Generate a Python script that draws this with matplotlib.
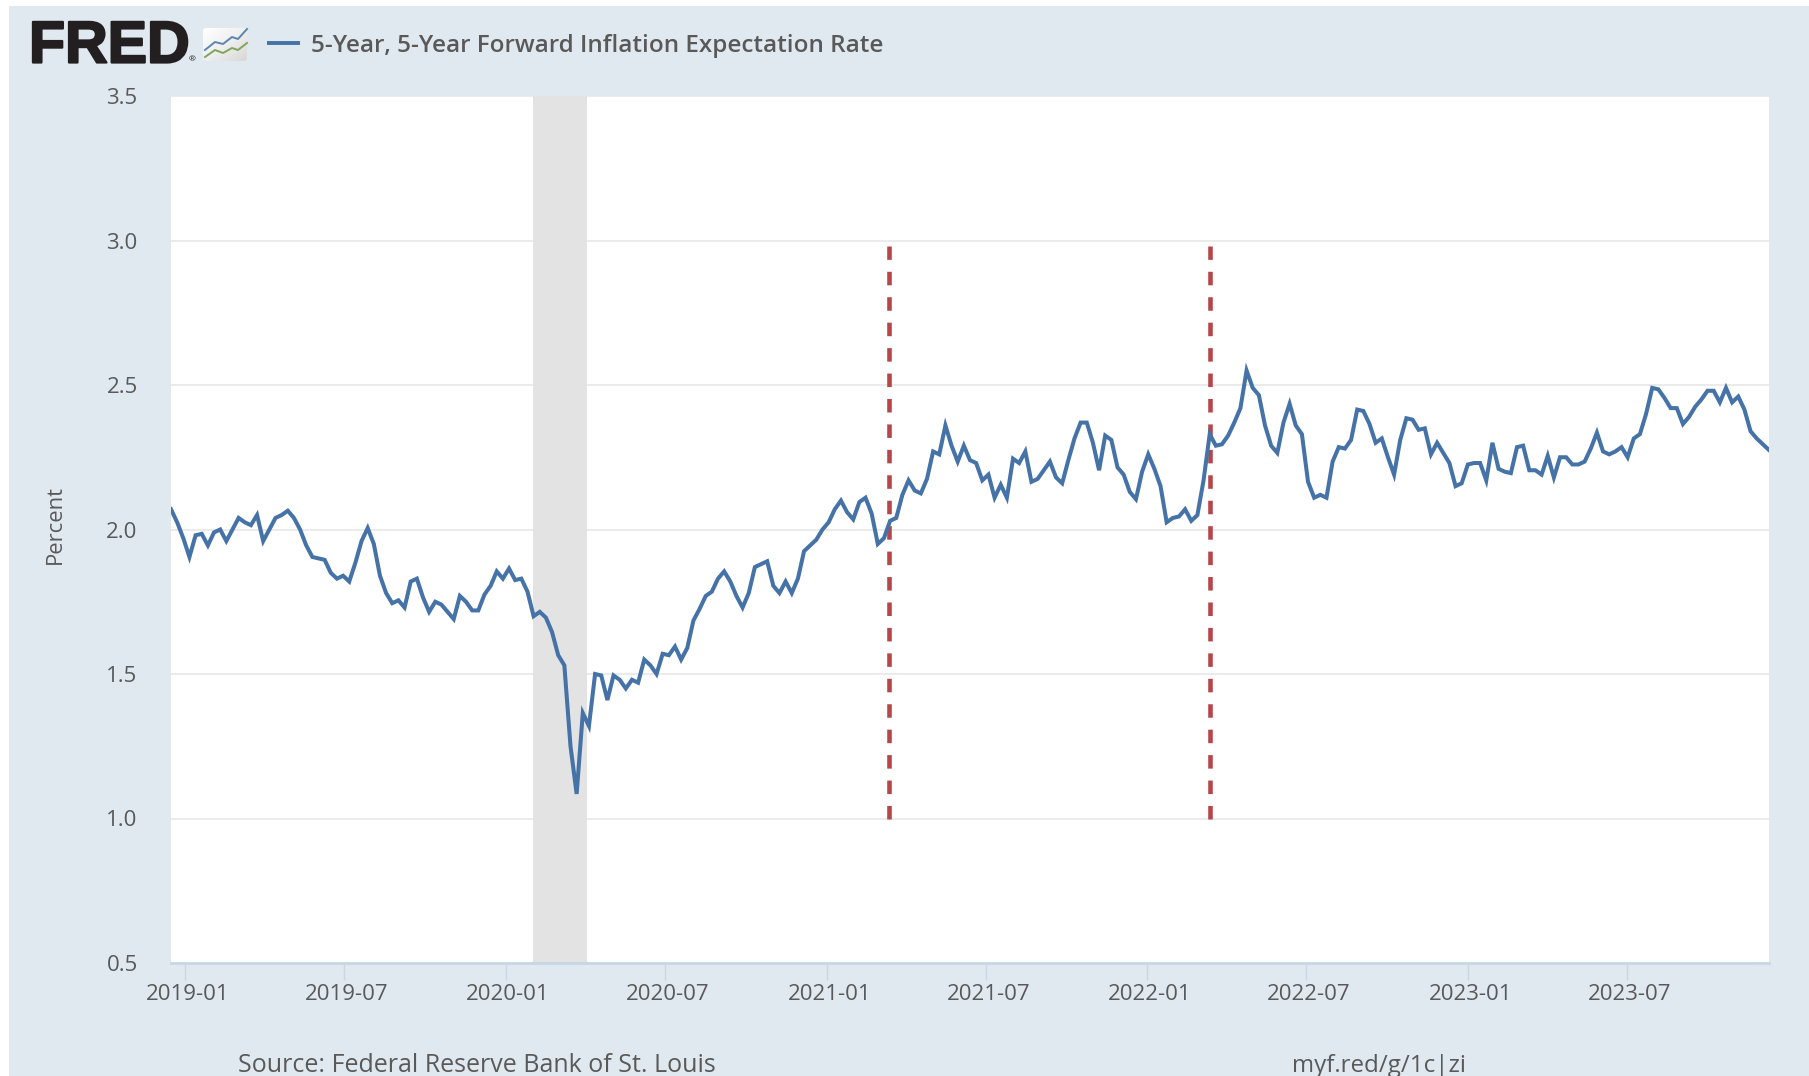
import numpy as np
import pandas as pd
import matplotlib
matplotlib.use('Agg')
import matplotlib.pyplot as plt
import matplotlib.patheffects as pe
from matplotlib.patches import FancyBboxPatch, Rectangle
from matplotlib.transforms import ScaledTranslation

W, H = 1809, 1076

series_name = '5-Year, 5-Year Forward Inflation Expectation Rate'
start_date = '2018-12-16'

rate = [
    2.07, 2.025, 1.97, 1.905, 1.98, 1.985, 1.945, 1.99, 2.00, 1.96,
    2.00, 2.04, 2.025, 2.015, 2.05, 1.96, 2.00, 2.04, 2.05, 2.065,
    2.04, 2.00, 1.945, 1.905, 1.90, 1.895, 1.85, 1.83, 1.84, 1.82,
    1.885, 1.96, 2.005, 1.95, 1.84, 1.78, 1.745, 1.755, 1.73, 1.82,
    1.83, 1.765, 1.715, 1.75, 1.74, 1.715, 1.69, 1.77, 1.75, 1.72,
    1.72, 1.775, 1.805, 1.855, 1.83, 1.865, 1.825, 1.83, 1.785, 1.70,
    1.715, 1.695, 1.645, 1.565, 1.53, 1.25, 1.085, 1.365, 1.32, 1.50,
    1.495, 1.41, 1.495, 1.48, 1.45, 1.48, 1.47, 1.55, 1.53, 1.50,
    1.57, 1.565, 1.595, 1.55, 1.59, 1.685, 1.725, 1.77, 1.785, 1.83,
    1.855, 1.82, 1.77, 1.73, 1.78, 1.87, 1.88, 1.89, 1.805, 1.78,
    1.82, 1.78, 1.83, 1.925, 1.945, 1.965, 2.00, 2.025, 2.07, 2.10,
    2.06, 2.035, 2.095, 2.11, 2.055, 1.95, 1.97, 2.03, 2.04, 2.12,
    2.17, 2.135, 2.125, 2.175, 2.27, 2.26, 2.36, 2.29, 2.235, 2.29,
    2.24, 2.23, 2.17, 2.19, 2.11, 2.155, 2.11, 2.245, 2.23, 2.27,
    2.165, 2.175, 2.205, 2.235, 2.18, 2.16, 2.24, 2.315, 2.37, 2.37,
    2.30, 2.205, 2.325, 2.31, 2.215, 2.19, 2.13, 2.105, 2.20, 2.26,
    2.21, 2.15, 2.025, 2.04, 2.045, 2.07, 2.03, 2.05, 2.17, 2.33,
    2.29, 2.295, 2.325, 2.37, 2.42, 2.55, 2.49, 2.465, 2.36, 2.29,
    2.265, 2.37, 2.435, 2.36, 2.33, 2.165, 2.11, 2.12, 2.11, 2.235,
    2.285, 2.28, 2.31, 2.415, 2.41, 2.365, 2.30, 2.315, 2.25, 2.19,
    2.31, 2.385, 2.38, 2.345, 2.35, 2.26, 2.30, 2.265, 2.23, 2.15,
    2.16, 2.225, 2.23, 2.23, 2.17, 2.30, 2.21, 2.20, 2.195, 2.285,
    2.29, 2.205, 2.205, 2.19, 2.255, 2.18, 2.25, 2.25, 2.225, 2.225,
    2.235, 2.28, 2.335, 2.27, 2.26, 2.27, 2.285, 2.25, 2.315, 2.33,
    2.40, 2.49, 2.485, 2.455, 2.42, 2.42, 2.365, 2.39, 2.425, 2.45,
    2.48, 2.48, 2.44, 2.49, 2.44, 2.46, 2.415, 2.34, 2.315, 2.295,
    2.275,
]

y_ticks = [0.5, 1.0, 1.5, 2.0, 2.5, 3.0, 3.5]
x_ticks = ['2019-01', '2019-07', '2020-01', '2020-07', '2021-01',
           '2021-07', '2022-01', '2022-07', '2023-01', '2023-07']
recession = ['2020-02-01', '2020-04-03']
marker_dates = ['2021-03-13', '2022-03-13']
marker_range = [1.0, 2.98]

BG = '#E1E9F0'
BLUE = '#4572A7'
TEXT = '#595959'
AXIS = '#C8D6E5'
GRID = '#E6E6E6'
RED = '#B5474A'


def px(x, y):
    # figure fraction from pixel position, y counted from the top
    return x / W, 1 - y / H


plt.rcParams['font.family'] = ['Open Sans', 'DejaVu Sans']

fig = plt.figure(figsize=(W / 100, H / 100), dpi=100, facecolor='white')
fig.patches.append(Rectangle((9 / W, 0), 1 - 9 / W, 1 - 6 / H, transform=fig.transFigure,
                             facecolor=BG, edgecolor='none', zorder=-10))

left, bottom = px(171, 963)
ax = fig.add_axes([left, bottom, 1598 / W, 867 / H], facecolor='white')

dates = pd.date_range(start_date, periods=len(rate), freq='7D')

ax.axvspan(pd.Timestamp(recession[0]), pd.Timestamp(recession[1]), color='#E3E3E3', lw=0, zorder=2)
ax.plot(dates, rate, color=BLUE, lw=2.9, solid_joinstyle='miter', zorder=4)
for d in marker_dates:
    ax.plot([pd.Timestamp(d)] * 2, marker_range, color=RED, lw=3.3, zorder=3,
            linestyle=(0, (2.95, 2.6)), dash_capstyle='butt')

ax.set_xlim(dates[0], dates[-1])
ax.set_ylim(0.5, 3.5)
ax.set_yticks(y_ticks)
ax.set_yticklabels([f'{v:.1f}' for v in y_ticks], fontsize=16, color=TEXT)
ax.set_xticks(pd.to_datetime(x_ticks))
ax.set_xticklabels(x_ticks, fontsize=16, color=TEXT)
ax.tick_params(axis='y', length=0, pad=24)
ax.tick_params(axis='x', length=12, width=1.0, color=AXIS, pad=3)
ax.grid(axis='y', color=GRID, lw=1.1, zorder=1)
ax.set_axisbelow(True)
for side in ['top', 'right', 'left']:
    ax.spines[side].set_visible(False)
ax.spines['bottom'].set_color(AXIS)
ax.spines['bottom'].set_linewidth(2.0)

# labels in the reference sit a little right of their ticks
shift = ScaledTranslation(2.5 / 100, 0, fig.dpi_scale_trans)
for lab in ax.get_xticklabels():
    lab.set_transform(lab.get_transform() + shift)

fig.text(*px(55, 525), 'Percent', rotation=90, ha='center', va='center', fontsize=15.8, color=TEXT)
fig.text(*px(238, 1066), 'Source: Federal Reserve Bank of St. Louis', ha='left', va='center',
         fontsize=18, color=TEXT)
fig.text(*px(1292, 1066), 'myf.red/g/1c|zi', ha='left', va='center', fontsize=17.4, color=TEXT)

# header: logo and legend, drawn on a full figure overlay in pixel units
over = fig.add_axes([0, 0, 1, 1], facecolor='none')
over.set_xlim(0, W)
over.set_ylim(H, 0)
over.axis('off')

over.text(29, 47, 'FRED', family='Liberation Sans', weight='bold', fontsize=42.5, color='#231F20',
          ha='left', va='center', path_effects=[pe.withStroke(linewidth=1.6, foreground='#231F20')])
over.text(189, 60, '®', fontsize=6, color='#231F20', ha='left', va='center')

icon = FancyBboxPatch((203, 28), 44, 33, boxstyle='round,pad=0,rounding_size=3',
                      facecolor='none', edgecolor='none')
over.add_patch(icon)
gx, gy = np.meshgrid(np.linspace(0, 1, 60), np.linspace(0, 1, 40))
shade = 1 - 0.13 * (gx + gy)
im = over.imshow(shade, extent=(203, 247, 61, 28), cmap='Greys_r', vmin=0, vmax=1, aspect='auto', zorder=2)
im.set_clip_path(icon)
over.set_xlim(0, W)
over.set_ylim(H, 0)

icon_blue_x = [205, 215, 223, 232, 238, 247]
icon_blue_y = [50, 42, 44, 37, 39, 29]
icon_green_y = [57, 50, 53, 48, 50, 43]
over.plot(icon_blue_x, icon_blue_y, color='#5A86B0', lw=1.4, zorder=3)
over.plot(icon_blue_x, icon_green_y, color='#7FA65A', lw=1.4, zorder=3)

over.plot([267, 300], [42.5, 42.5], color=BLUE, lw=2.8, solid_capstyle='butt')
over.text(311, 46, series_name, fontsize=17.5, weight='semibold', color=TEXT, ha='left', va='center')

fig.savefig('out.png', dpi=100, facecolor='white')
